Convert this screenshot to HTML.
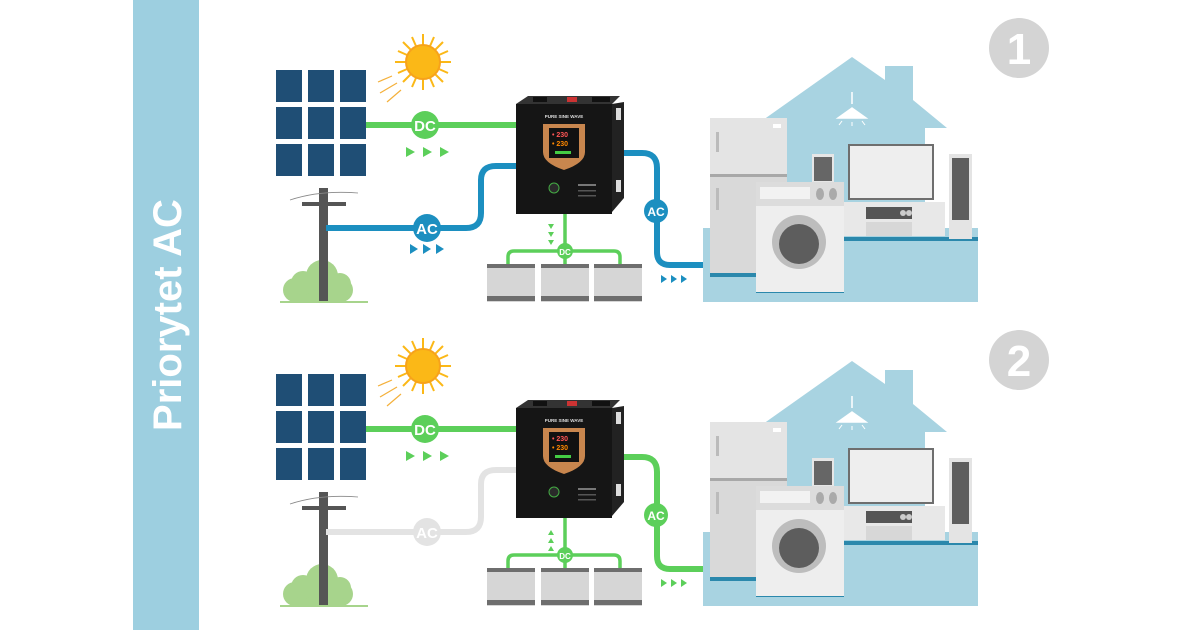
<!DOCTYPE html>
<html><head><meta charset="utf-8"><style>
html,body{margin:0;padding:0;background:#fff}
svg{display:block}
text{font-family:"Liberation Sans",sans-serif;font-weight:bold}
</style></head><body>
<svg width="1200" height="630" viewBox="0 0 1200 630" xmlns="http://www.w3.org/2000/svg">
<rect width="1200" height="630" fill="#fff"/>
<rect x="133" y="0" width="66" height="630" fill="#9dcfe0"/>
<text x="0" y="0" transform="translate(181,315) rotate(-90)" text-anchor="middle" font-size="40" fill="#fff">Priorytet AC</text>

<!-- PANEL 1 -->
<g id="p1">
  <!-- solar -->
  <g fill="#1f4e75">
    <rect x="276" y="70" width="26" height="32"/><rect x="308" y="70" width="26" height="32"/><rect x="340" y="70" width="26" height="32"/>
    <rect x="276" y="107" width="26" height="32"/><rect x="308" y="107" width="26" height="32"/><rect x="340" y="107" width="26" height="32"/>
    <rect x="276" y="144" width="26" height="32"/><rect x="308" y="144" width="26" height="32"/><rect x="340" y="144" width="26" height="32"/>
  </g>
  <!-- sun -->
  <g stroke="#fbb817" stroke-width="2">
    <line x1="423" y1="34" x2="423" y2="90"/><line x1="395" y1="62" x2="451" y2="62"/>
    <line x1="403" y1="42" x2="443" y2="82"/><line x1="443" y1="42" x2="403" y2="82"/>
    <line x1="412" y1="37" x2="434" y2="87"/><line x1="434" y1="37" x2="412" y2="87"/>
    <line x1="398" y1="51" x2="448" y2="73"/><line x1="398" y1="73" x2="448" y2="51"/>
  </g>
  <circle cx="423" cy="62" r="17" fill="#fbb817" stroke="#f7a21b" stroke-width="2"/>
  <g stroke="#f4b03a" stroke-width="1.2">
    <line x1="378" y1="82" x2="392" y2="76"/><line x1="380" y1="93" x2="397" y2="83"/><line x1="387" y1="102" x2="401" y2="90"/>
  </g>
  <!-- DC line -->
  <line x1="366" y1="125" x2="518" y2="125" stroke="#5ccf5a" stroke-width="6"/>
  <circle cx="425" cy="125" r="14" fill="#5ccf5a"/>
  <text x="425" y="131" text-anchor="middle" font-size="15" fill="#fff">DC</text>
  <g fill="#5ccf5a"><polygon points="406,147 415,152 406,157"/><polygon points="423,147 432,152 423,157"/><polygon points="440,147 449,152 440,157"/></g>
  <!-- pole -->
  <rect x="283" y="278" width="70" height="24" rx="12" fill="#a7d48c"/>
  <circle cx="303" cy="283" r="12" fill="#a7d48c"/><circle cx="322" cy="276" r="16" fill="#a7d48c"/><circle cx="340" cy="284" r="11" fill="#a7d48c"/>
  <rect x="319" y="188" width="9" height="114" fill="#555"/>
  <rect x="302" y="202" width="44" height="4" fill="#555"/>
  <path d="M290 200 Q320 190 358 193" stroke="#888" fill="none" stroke-width="0.8"/>
  <rect x="280" y="301" width="88" height="2" fill="#a7d48c"/>
  <!-- AC in -->
  <path d="M326 228 H466 Q481 228 481 213 V180 Q481 166 496 166 H518" stroke="#1c8fc0" stroke-width="6" fill="none"/>
  <circle cx="427" cy="228" r="14" fill="#1c8fc0"/>
  <text x="427" y="234" text-anchor="middle" font-size="15" fill="#fff">AC</text>
  <g fill="#1c8fc0"><polygon points="410,244 418,249 410,254"/><polygon points="423,244 431,249 423,254"/><polygon points="436,244 444,249 436,254"/></g>
  <!-- AC out -->
  <path d="M618 153 H642 Q657 153 657 168 V252 Q657 265 670 265 H704" stroke="#1c8fc0" stroke-width="6" fill="none"/>
  <circle cx="656" cy="211" r="12" fill="#1c8fc0"/>
  <text x="656" y="216" text-anchor="middle" font-size="12" fill="#fff">AC</text>
  <g fill="#1c8fc0"><polygon points="661,275 667,279 661,283"/><polygon points="671,275 677,279 671,283"/><polygon points="681,275 687,279 681,283"/></g>
  <!-- battery DC -->
  <path d="M565 210 V251 M508 264 V257 Q508 251 514 251 H614 Q620 251 620 257 V264 M565 251 V264" stroke="#5ccf5a" stroke-width="3.5" fill="none"/>
  <circle cx="565" cy="251" r="8" fill="#5ccf5a"/>
  <text x="565" y="255" text-anchor="middle" font-size="8" fill="#fff">DC</text>
  <g fill="#5ccf5a"><polygon points="548,224 554,224 551,229"/><polygon points="548,232 554,232 551,237"/><polygon points="548,240 554,240 551,245"/></g>
  <g>
    <rect x="487" y="264" width="48" height="38" fill="#d6d6d6"/><rect x="487" y="264" width="48" height="4" fill="#6e6e6e"/><rect x="487" y="296" width="48" height="5" fill="#6e6e6e"/>
    <rect x="541" y="264" width="48" height="38" fill="#d6d6d6"/><rect x="541" y="264" width="48" height="4" fill="#6e6e6e"/><rect x="541" y="296" width="48" height="5" fill="#6e6e6e"/>
    <rect x="594" y="264" width="48" height="38" fill="#d6d6d6"/><rect x="594" y="264" width="48" height="4" fill="#6e6e6e"/><rect x="594" y="296" width="48" height="5" fill="#6e6e6e"/>
  </g>
  <!-- inverter -->
  <polygon points="612,104 624,102 624,198 612,212" fill="#222"/>
  <rect x="616" y="108" width="5" height="12" fill="#ddd"/><rect x="616" y="180" width="5" height="12" fill="#ddd"/>
  <polygon points="516,104 528,96 620,96 612,104" fill="#333"/>
  <rect x="533" y="97" width="14" height="5" fill="#111"/><rect x="567" y="97" width="10" height="5" fill="#c33"/><rect x="592" y="97" width="18" height="5" fill="#111"/>
  <rect x="516" y="104" width="96" height="110" fill="#151515"/>
  <text x="564" y="118" text-anchor="middle" font-size="4.5" fill="#ddd">PURE SINE WAVE</text>
  <path d="M543 124 H585 V152 Q585 163 564 170 Q543 163 543 152 Z" fill="#c8864e"/>
  <rect x="549" y="128" width="30" height="30" fill="#111"/>
  <text x="552" y="137" font-size="7" fill="#f55">• 230</text><text x="552" y="146" font-size="7" fill="#f80">• 230</text>
  <rect x="555" y="151" width="16" height="3" fill="#4c4"/>
  <circle cx="554" cy="188" r="5" fill="#2a2a2a" stroke="#4a4" stroke-width="1"/>
  <rect x="578" y="184" width="18" height="2" fill="#777"/><rect x="578" y="190" width="18" height="1.5" fill="#555"/><rect x="578" y="195" width="18" height="1.5" fill="#555"/>
  <!-- house -->
  <polygon points="763,120 852,57 885,80 885,66 913,66 913,100 947,128 925,128 925,230 763,230" fill="#a8d3e1"/>
  <path d="M852 92 V104 M838 118 L852 108 L866 118 Z" stroke="#fff" stroke-width="1.5" fill="#fff"/>
  <g stroke="#fff" stroke-width="1"><line x1="842" y1="121" x2="839" y2="125"/><line x1="852" y1="122" x2="852" y2="126"/><line x1="862" y1="121" x2="865" y2="125"/></g>
  <rect x="703" y="228" width="275" height="74" fill="#a8d3e1"/>
  <rect x="843" y="237" width="135" height="4" fill="#2b88ac"/>
  <rect x="710" y="273" width="48" height="4" fill="#2b88ac"/>
  <rect x="756" y="289" width="88" height="4" fill="#2b88ac"/>
  <!-- fridge -->
  <rect x="710" y="118" width="77" height="155" fill="#d9d9d9"/>
  <rect x="710" y="118" width="77" height="56" fill="#e4e4e4"/>
  <rect x="710" y="174" width="77" height="3" fill="#a8a8a8"/>
  <rect x="716" y="132" width="3" height="20" fill="#bbb"/><rect x="716" y="188" width="3" height="22" fill="#bbb"/>
  <rect x="773" y="124" width="8" height="4" fill="#fff"/>
  <!-- small speaker -->
  <rect x="812" y="154" width="22" height="30" fill="#e6e6e6"/><rect x="814" y="157" width="18" height="24" fill="#666"/>
  <!-- washer -->
  <rect x="756" y="182" width="88" height="110" fill="#eeeeee"/>
  <rect x="756" y="182" width="88" height="24" fill="#dcdcdc"/>
  <rect x="760" y="187" width="50" height="12" fill="#f2f2f2"/>
  <ellipse cx="820" cy="194" rx="4" ry="6" fill="#aaa"/><ellipse cx="833" cy="194" rx="4" ry="6" fill="#aaa"/>
  <circle cx="799" cy="242" r="27" fill="#bdbdbd"/><circle cx="799" cy="244" r="20" fill="#5d5d5d"/>
  <!-- TV -->
  <rect x="848" y="144" width="86" height="56" fill="#6e6e6e"/><rect x="850" y="146" width="82" height="52" fill="#eeeeee"/>
  <!-- stereo -->
  <rect x="844" y="202" width="101" height="34" fill="#e8e8e8"/>
  <rect x="866" y="207" width="46" height="12" fill="#555"/>
  <rect x="866" y="222" width="46" height="14" fill="#d7d7d7"/>
  <circle cx="903" cy="213" r="3" fill="#ccc"/><circle cx="909" cy="213" r="3" fill="#ccc"/>
  <!-- tall speaker -->
  <rect x="949" y="154" width="23" height="85" fill="#e4e4e4"/><rect x="952" y="158" width="17" height="62" fill="#5e5e5e"/>
  <!-- number -->
  <circle cx="1019" cy="48" r="30" fill="#d4d4d4"/>
  <text x="1019" y="64" text-anchor="middle" font-size="44" fill="#fff">1</text>
</g>

<!-- PANEL 2 -->
<g transform="translate(0,304)">
  <g fill="#1f4e75">
    <rect x="276" y="70" width="26" height="32"/><rect x="308" y="70" width="26" height="32"/><rect x="340" y="70" width="26" height="32"/>
    <rect x="276" y="107" width="26" height="32"/><rect x="308" y="107" width="26" height="32"/><rect x="340" y="107" width="26" height="32"/>
    <rect x="276" y="144" width="26" height="32"/><rect x="308" y="144" width="26" height="32"/><rect x="340" y="144" width="26" height="32"/>
  </g>
  <g stroke="#fbb817" stroke-width="2">
    <line x1="423" y1="34" x2="423" y2="90"/><line x1="395" y1="62" x2="451" y2="62"/>
    <line x1="403" y1="42" x2="443" y2="82"/><line x1="443" y1="42" x2="403" y2="82"/>
    <line x1="412" y1="37" x2="434" y2="87"/><line x1="434" y1="37" x2="412" y2="87"/>
    <line x1="398" y1="51" x2="448" y2="73"/><line x1="398" y1="73" x2="448" y2="51"/>
  </g>
  <circle cx="423" cy="62" r="17" fill="#fbb817" stroke="#f7a21b" stroke-width="2"/>
  <g stroke="#f4b03a" stroke-width="1.2">
    <line x1="378" y1="82" x2="392" y2="76"/><line x1="380" y1="93" x2="397" y2="83"/><line x1="387" y1="102" x2="401" y2="90"/>
  </g>
  <line x1="366" y1="125" x2="518" y2="125" stroke="#5ccf5a" stroke-width="6"/>
  <circle cx="425" cy="125" r="14" fill="#5ccf5a"/>
  <text x="425" y="131" text-anchor="middle" font-size="15" fill="#fff">DC</text>
  <g fill="#5ccf5a"><polygon points="406,147 415,152 406,157"/><polygon points="423,147 432,152 423,157"/><polygon points="440,147 449,152 440,157"/></g>
  <rect x="283" y="278" width="70" height="24" rx="12" fill="#a7d48c"/>
  <circle cx="303" cy="283" r="12" fill="#a7d48c"/><circle cx="322" cy="276" r="16" fill="#a7d48c"/><circle cx="340" cy="284" r="11" fill="#a7d48c"/>
  <rect x="319" y="188" width="9" height="114" fill="#555"/>
  <rect x="302" y="202" width="44" height="4" fill="#555"/>
  <path d="M290 200 Q320 190 358 193" stroke="#888" fill="none" stroke-width="0.8"/>
  <rect x="280" y="301" width="88" height="2" fill="#a7d48c"/>
  <path d="M326 228 H466 Q481 228 481 213 V180 Q481 166 496 166 H518" stroke="#e3e3e3" stroke-width="6" fill="none"/>
  <circle cx="427" cy="228" r="14" fill="#e3e3e3"/>
  <text x="427" y="234" text-anchor="middle" font-size="15" fill="#fff">AC</text>
  <path d="M618 153 H642 Q657 153 657 168 V252 Q657 265 670 265 H704" stroke="#5ccf5a" stroke-width="6" fill="none"/>
  <circle cx="656" cy="211" r="12" fill="#5ccf5a"/>
  <text x="656" y="216" text-anchor="middle" font-size="12" fill="#fff">AC</text>
  <g fill="#5ccf5a"><polygon points="661,275 667,279 661,283"/><polygon points="671,275 677,279 671,283"/><polygon points="681,275 687,279 681,283"/></g>
  <path d="M565 210 V251 M508 264 V257 Q508 251 514 251 H614 Q620 251 620 257 V264 M565 251 V264" stroke="#5ccf5a" stroke-width="3.5" fill="none"/>
  <circle cx="565" cy="251" r="8" fill="#5ccf5a"/>
  <text x="565" y="255" text-anchor="middle" font-size="8" fill="#fff">DC</text>
  <g fill="#5ccf5a"><polygon points="548,247 554,247 551,242"/><polygon points="548,239 554,239 551,234"/><polygon points="548,231 554,231 551,226"/></g>
  <g>
    <rect x="487" y="264" width="48" height="38" fill="#d6d6d6"/><rect x="487" y="264" width="48" height="4" fill="#6e6e6e"/><rect x="487" y="296" width="48" height="5" fill="#6e6e6e"/>
    <rect x="541" y="264" width="48" height="38" fill="#d6d6d6"/><rect x="541" y="264" width="48" height="4" fill="#6e6e6e"/><rect x="541" y="296" width="48" height="5" fill="#6e6e6e"/>
    <rect x="594" y="264" width="48" height="38" fill="#d6d6d6"/><rect x="594" y="264" width="48" height="4" fill="#6e6e6e"/><rect x="594" y="296" width="48" height="5" fill="#6e6e6e"/>
  </g>
  <polygon points="612,104 624,102 624,198 612,212" fill="#222"/>
  <rect x="616" y="108" width="5" height="12" fill="#ddd"/><rect x="616" y="180" width="5" height="12" fill="#ddd"/>
  <polygon points="516,104 528,96 620,96 612,104" fill="#333"/>
  <rect x="533" y="97" width="14" height="5" fill="#111"/><rect x="567" y="97" width="10" height="5" fill="#c33"/><rect x="592" y="97" width="18" height="5" fill="#111"/>
  <rect x="516" y="104" width="96" height="110" fill="#151515"/>
  <text x="564" y="118" text-anchor="middle" font-size="4.5" fill="#ddd">PURE SINE WAVE</text>
  <path d="M543 124 H585 V152 Q585 163 564 170 Q543 163 543 152 Z" fill="#c8864e"/>
  <rect x="549" y="128" width="30" height="30" fill="#111"/>
  <text x="552" y="137" font-size="7" fill="#f55">• 230</text><text x="552" y="146" font-size="7" fill="#f80">• 230</text>
  <rect x="555" y="151" width="16" height="3" fill="#4c4"/>
  <circle cx="554" cy="188" r="5" fill="#2a2a2a" stroke="#4a4" stroke-width="1"/>
  <rect x="578" y="184" width="18" height="2" fill="#777"/><rect x="578" y="190" width="18" height="1.5" fill="#555"/><rect x="578" y="195" width="18" height="1.5" fill="#555"/>
  <polygon points="763,120 852,57 885,80 885,66 913,66 913,100 947,128 925,128 925,230 763,230" fill="#a8d3e1"/>
  <path d="M852 92 V104 M838 118 L852 108 L866 118 Z" stroke="#fff" stroke-width="1.5" fill="#fff"/>
  <g stroke="#fff" stroke-width="1"><line x1="842" y1="121" x2="839" y2="125"/><line x1="852" y1="122" x2="852" y2="126"/><line x1="862" y1="121" x2="865" y2="125"/></g>
  <rect x="703" y="228" width="275" height="74" fill="#a8d3e1"/>
  <rect x="843" y="237" width="135" height="4" fill="#2b88ac"/>
  <rect x="710" y="273" width="48" height="4" fill="#2b88ac"/>
  <rect x="756" y="289" width="88" height="4" fill="#2b88ac"/>
  <rect x="710" y="118" width="77" height="155" fill="#d9d9d9"/>
  <rect x="710" y="118" width="77" height="56" fill="#e4e4e4"/>
  <rect x="710" y="174" width="77" height="3" fill="#a8a8a8"/>
  <rect x="716" y="132" width="3" height="20" fill="#bbb"/><rect x="716" y="188" width="3" height="22" fill="#bbb"/>
  <rect x="773" y="124" width="8" height="4" fill="#fff"/>
  <rect x="812" y="154" width="22" height="30" fill="#e6e6e6"/><rect x="814" y="157" width="18" height="24" fill="#666"/>
  <rect x="756" y="182" width="88" height="110" fill="#eeeeee"/>
  <rect x="756" y="182" width="88" height="24" fill="#dcdcdc"/>
  <rect x="760" y="187" width="50" height="12" fill="#f2f2f2"/>
  <ellipse cx="820" cy="194" rx="4" ry="6" fill="#aaa"/><ellipse cx="833" cy="194" rx="4" ry="6" fill="#aaa"/>
  <circle cx="799" cy="242" r="27" fill="#bdbdbd"/><circle cx="799" cy="244" r="20" fill="#5d5d5d"/>
  <rect x="848" y="144" width="86" height="56" fill="#6e6e6e"/><rect x="850" y="146" width="82" height="52" fill="#eeeeee"/>
  <rect x="844" y="202" width="101" height="34" fill="#e8e8e8"/>
  <rect x="866" y="207" width="46" height="12" fill="#555"/>
  <rect x="866" y="222" width="46" height="14" fill="#d7d7d7"/>
  <circle cx="903" cy="213" r="3" fill="#ccc"/><circle cx="909" cy="213" r="3" fill="#ccc"/>
  <rect x="949" y="154" width="23" height="85" fill="#e4e4e4"/><rect x="952" y="158" width="17" height="62" fill="#5e5e5e"/>
  <circle cx="1019" cy="56" r="30" fill="#d4d4d4"/>
  <text x="1019" y="72" text-anchor="middle" font-size="44" fill="#fff">2</text>
</g>
</svg>
</body></html>
